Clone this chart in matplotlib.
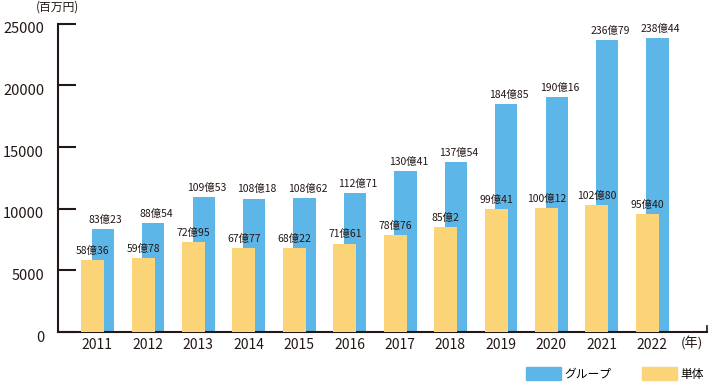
import matplotlib
matplotlib.use("Agg")
import matplotlib.pyplot as plt
import matplotlib.transforms as mtransforms
import numpy as np
from matplotlib.patches import Patch

plt.rcParams['font.family'] = ['Noto Sans CJK JP', 'DejaVu Sans']

years = ['2011', '2012', '2013', '2014', '2015', '2016', '2017', '2018', '2019', '2020', '2021', '2022']
group = [8323, 8854, 10953, 10818, 10862, 11271, 13041, 13754, 18485, 19016, 23679, 23844]
single = [5836, 5978, 7295, 6777, 6822, 7161, 7876, 8502, 9941, 10012, 10280, 9540]

BLUE = '#5db6e8'
YELLOW = '#fbd477'
DARK = '#231815'

def fmt(v):
    return f"{v // 100}億{v % 100}"

fig = plt.figure(figsize=(7.10, 3.83), dpi=100)
ax = fig.add_axes([58/710, 1-332/383, (707-58)/710, (332-23.5)/383])

x = np.arange(len(years))
bw_blue = 0.44
bw_yel = 0.455
xb = x - 0.11 + bw_blue/2
xy = x - 0.32 + bw_yel/2
ax.bar(xb, group, width=bw_blue, color=BLUE, zorder=2)
ax.bar(xy, single, width=bw_yel, color=YELLOW, zorder=3)

for xi, v in zip(xb, group):
    ax.annotate(fmt(v), (xi, v), xytext=(2, 3), textcoords='offset points',
                ha='center', va='bottom', fontsize=7.5, color=DARK, zorder=4)
for xi, v in zip(xy, single):
    ax.annotate(fmt(v), (xi, v), xytext=(0, 3), textcoords='offset points',
                ha='center', va='bottom', fontsize=7.5, color=DARK, zorder=4)

ax.set_xlim(-0.78, 12.09)
ax.set_ylim(0, 25000)
ax.set_xticks(x)
ax.set_xticklabels(years, fontsize=10, color=DARK)
ax.tick_params(axis='x', length=0, pad=4)
ax.set_yticks([0, 5000, 10000, 15000, 20000, 25000])
ax.set_yticklabels(['0', '5000', '10000', '15000', '20000', '25000'], fontsize=10.5, color=DARK)
ax.tick_params(axis='y', direction='in', length=13, width=1.5, color=DARK, pad=10)
for lab in ax.get_yticklabels():
    lab.set_transform(lab.get_transform() + mtransforms.ScaledTranslation(0, -3/72, fig.dpi_scale_trans))

for s in ['top', 'right']:
    ax.spines[s].set_visible(False)
for s in ['left', 'bottom']:
    ax.spines[s].set_color(DARK)
    ax.spines[s].set_linewidth(1.5)
ax.plot([1, 1], [0, 0.02], transform=ax.transAxes, color=DARK, lw=1.2, clip_on=False)

fig.text(36/710, 1-7/383, '(百万円)', fontsize=8.5, color=DARK, ha='left', va='center')
fig.text(681/710, 1-343/383, '(年)', fontsize=9.5, color=DARK, ha='left', va='center')

handles = [Patch(color=BLUE), Patch(color=YELLOW)]
fig.legend(handles, ['グループ', '単体'], loc='center right', bbox_to_anchor=(709/710, 1-374/383),
           ncol=2, frameon=False, fontsize=8.5, handlelength=2.9, handleheight=1.3,
           handletextpad=0.35, columnspacing=2.6, borderaxespad=0)

fig.savefig('out.png', dpi=100)
